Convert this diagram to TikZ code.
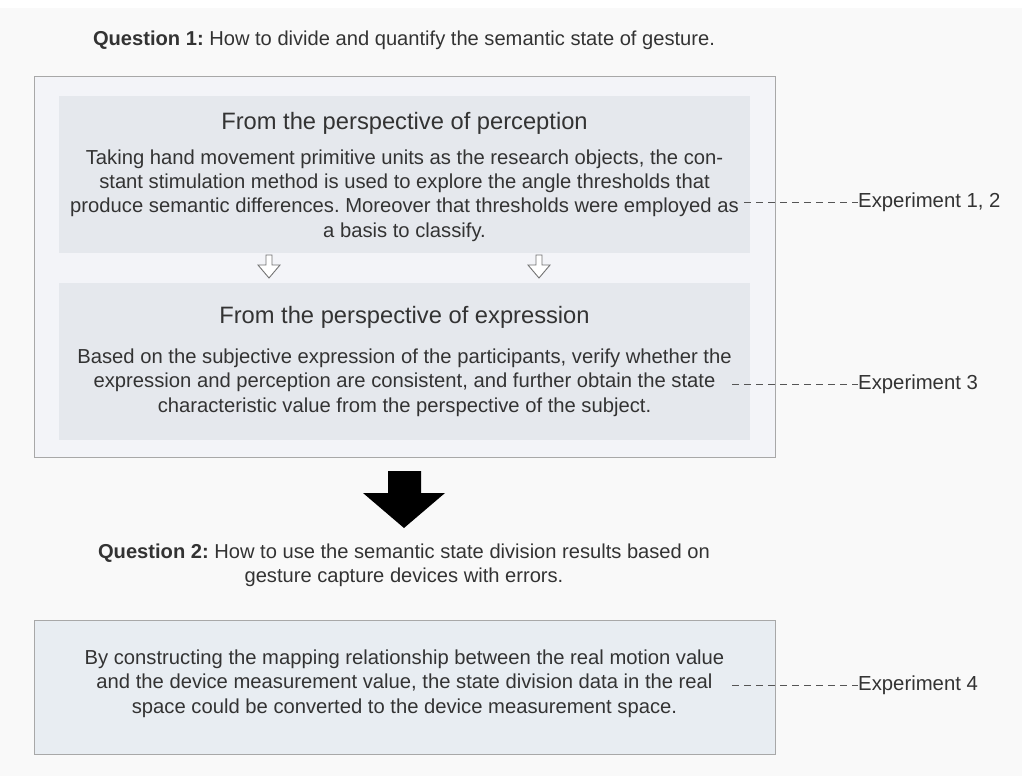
\documentclass[tikz,border=0pt]{standalone}
\usepackage{fontspec}
\setmainfont{Liberation Sans}
\frenchspacing
\definecolor{bgc}{HTML}{F9F9F9}
\definecolor{outerfill}{HTML}{F3F4F8}
\definecolor{innerfill}{HTML}{E5E8ED}
\definecolor{boxcfill}{HTML}{E8EDF2}
\definecolor{bordc}{HTML}{A8A8A8}
\definecolor{txtc}{HTML}{333333}
\definecolor{dashc}{HTML}{555555}
\begin{document}
\frenchspacing
\begin{tikzpicture}[x=1bp,y=-1bp,
  outerbox/.style={draw=bordc, line width=0.9bp, fill=outerfill, anchor=north west, inner sep=0, outer sep=0},
  innerbox/.style={fill=innerfill, anchor=north west, inner sep=0, outer sep=0},
  boxc/.style={draw=bordc, line width=0.9bp, fill=boxcfill, anchor=north west, inner sep=0, outer sep=0},
  qtext/.style={text=txtc, align=center, inner sep=0, font=\fontsize{20.2}{24.5}\selectfont},
  ttext/.style={text=txtc, align=center, inner sep=0, font=\fontsize{23.8}{28}\selectfont},
  btext/.style={text=txtc, align=center, inner sep=0, font=\fontsize{20.3}{24.4}\selectfont},
  lbltext/.style={text=txtc, anchor=west, inner sep=0, font=\fontsize{20.4}{24}\selectfont},
  dashline/.style={draw=dashc, line width=0.7bp, dash pattern=on 7bp off 5bp},
  smallarr/.style={draw=black!55, line width=0.9bp, fill=white, line join=miter},
  bigarr/.style={fill=black}
]
\useasboundingbox (0,0) rectangle (1022,776);
\fill[bgc] (0,0) rectangle (1022,776);
\fill[white] (0,0) rectangle (1022,8);

% Question 1
\node[qtext] (q1) at (404,40) {\textbf{Question 1:} How to divide and quantify the semantic state of gesture.};

% Outer box
\node[outerbox, minimum width=741bp, minimum height=381bp] (box1) at (34,76) {};
\node[innerbox, minimum width=691bp, minimum height=157bp] (boxA) at (59,96) {};
\node[innerbox, minimum width=691bp, minimum height=157bp] (boxB) at (59,283) {};

\node[ttext] (tA) at (404.5,123) {From the perspective of perception};
\node[btext] (bA) at (404.5,195.5) {Taking hand movement primitive units as the research objects, the con-\\
stant stimulation method is used to explore the angle thresholds that\\
produce semantic differences. Moreover that thresholds were employed as\\
a basis to classify.};

\draw[smallarr] (266,255) -- (272,255) -- (272,265) -- (280,265) -- (269,278) -- (258,265) -- (266,265) -- cycle;
\draw[smallarr] (536,255) -- (542,255) -- (542,265) -- (550,265) -- (539,278) -- (528,265) -- (536,265) -- cycle;

\node[ttext] (tB) at (404.5,317) {From the perspective of expression};
\node[btext] (bB) at (404.5,382.5) {Based on the subjective expression of the participants, verify whether the\\
expression and perception are consistent, and further obtain the state\\
characteristic value from the perspective of the subject.};

% Big arrow
\fill[bigarr] (388,471) -- (421,471) -- (421,493) -- (445,493) -- (404,528) -- (363,493) -- (388,493) -- cycle;

% Question 2
\node[qtext] (q2) at (404,565) {\textbf{Question 2:} How to use the semantic state division results based on\\
gesture capture devices with errors.};

% Box C
\node[boxc, minimum width=741bp, minimum height=134bp] (boxC) at (34,620) {};
\node[btext] (bC) at (404.5,683.5) {By constructing the mapping relationship between the real motion value\\
and the device measurement value, the state division data in the real\\
space could be converted to the device measurement space.};

% Experiment labels
\node[lbltext] (x1) at (858,202) {Experiment 1, 2};
\node[lbltext] (x2) at (858,384) {Experiment 3};
\node[lbltext] (x3) at (858,685) {Experiment 4};
\coordinate (e1) at (744,202);
\coordinate (e2) at (732,384);
\coordinate (e3) at (732,685);
\draw[dashline] (e1) -- (x1.west);
\draw[dashline] (e2) -- (x2.west);
\draw[dashline] (e3) -- (x3.west);
\end{tikzpicture}
\end{document}
